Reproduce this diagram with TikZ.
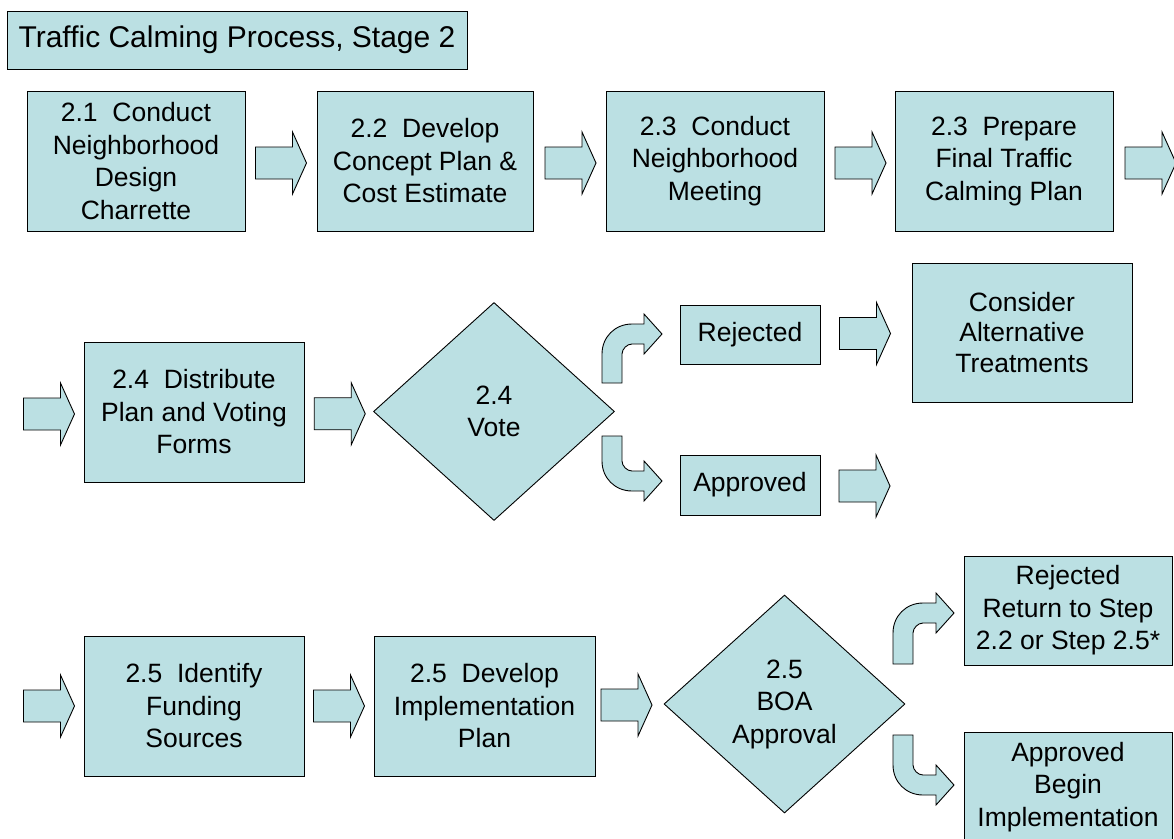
\documentclass[tikz,border=0pt]{standalone}
\usepackage{fontspec}
\setmainfont{Liberation Sans}
\usetikzlibrary{shapes.geometric,calc}
\definecolor{boxfill}{RGB}{187,224,227}
\tikzset{
  base/.style={draw=black, line width=0.9pt, fill=boxfill, align=center, inner sep=0pt,
               font=\fontsize{26.5}{32.5}\selectfont},
  stepbox/.style={base, rectangle},
  decision/.style={base, diamond, minimum width=241, minimum height=218},
  blk/.style={draw=black, line width=0.9pt, fill=boxfill, line join=miter}
}
\newcommand\blockarrow[1]{%
  \draw[blk, shift={(#1)}] (-25.5,-16) -- (11.5,-16) -- (11.5,-31) -- (25.5,0)
    -- (11.5,31) -- (11.5,16) -- (-25.5,16) -- cycle;}
% up-bent arrow: #1 shaft left x, #2 shaft bottom y, #3 horizontal centre y, #4 head base x
\newcommand\bentup[4]{%
  \draw[blk] (#1,#2) -- (#1,{#3-10+30})
    .. controls (#1,{#3-10+13}) and ({#1+13},{#3-10}) .. ({#1+30},{#3-10})
    -- (#4,{#3-10}) -- (#4,{#3-20}) -- ({#4+18},#3) -- (#4,{#3+20}) -- (#4,{#3+10})
    -- ({#1+30},{#3+10})
    .. controls ({#1+25},{#3+10}) and ({#1+20},{#3+15}) .. ({#1+20},{#3+20})
    -- ({#1+20},#2) -- cycle;}
% down-bent arrow: #1 shaft left x, #2 shaft top y, #3 horizontal centre y, #4 head base x
\newcommand\bentdown[4]{%
  \draw[blk] (#1,#2) -- (#1,{#3+10-30})
    .. controls (#1,{#3+10-13}) and ({#1+13},{#3+10}) .. ({#1+30},{#3+10})
    -- (#4,{#3+10}) -- (#4,{#3+20}) -- ({#4+18},#3) -- (#4,{#3-20}) -- (#4,{#3-10})
    -- ({#1+30},{#3-10})
    .. controls ({#1+25},{#3-10}) and ({#1+20},{#3-15}) .. ({#1+20},{#3-20})
    -- ({#1+20},#2) -- cycle;}
\begin{document}
\begin{tikzpicture}[x=1pt,y=-1pt]
\useasboundingbox (0,0) rectangle (1174,838);

% title
\node[stepbox, minimum width=460, minimum height=58, font=\fontsize{30}{34}\selectfont]
  (title) at (237,40) {Traffic Calming Process, Stage 2};

% row 1
\node[stepbox, minimum width=218, minimum height=140] (s21) at (136,161)
  {2.1~~Conduct\\Neighborhood\\Design\\Charrette};
\node[stepbox, minimum width=216, minimum height=140] (s22) at (425,161)
  {2.2~~Develop\\Concept Plan \&\\Cost Estimate};
\node[stepbox, minimum width=218, minimum height=140] (s23) at (715,161)
  {2.3~~Conduct\\Neighborhood\\Meeting};
\node[stepbox, minimum width=218, minimum height=140] (s23b) at (1004,161)
  {2.3~~Prepare\\Final Traffic\\Calming Plan};

% row 2
\node[stepbox, minimum width=220, minimum height=140] (s24) at (194,412)
  {2.4~~Distribute\\Plan and Voting\\Forms};
\node[decision] (vote) at (494,411.5) {2.4\\Vote};
\node[stepbox, minimum width=140, minimum height=59] (rej) at (750,334.5) {Rejected};
\node[stepbox, minimum width=140, minimum height=60] (appr) at (750,485) {Approved};
\node[stepbox, minimum width=220, minimum height=139, font=\fontsize{26.5}{30.5}\selectfont]
  (alt) at (1022,332.5) {Consider\\Alternative\\Treatments};

% row 3
\node[stepbox, minimum width=220, minimum height=140] (s25a) at (194,706)
  {2.5~~Identify\\Funding\\Sources};
\node[stepbox, minimum width=221, minimum height=140] (s25b) at (484.5,706)
  {2.5~~Develop\\Implementation\\Plan};
\node[decision] (boa) at (784.5,704) {2.5\\BOA\\Approval};
\node[stepbox, minimum width=208, minimum height=109] (rej2) at (1068,610.5)
  {Rejected\\Return to Step\\2.2 or Step 2.5*};
\node[stepbox, minimum width=208, minimum height=110] (appr2) at (1068,787)
  {Approved\\Begin\\Implementation};

% connector positions
\coordinate (m1) at ($(s21.east)!0.5!(s22.west)+(0,2)$);
\coordinate (m2) at ($(s22.east)!0.5!(s23.west)+(1,2)$);
\coordinate (m3) at ($(s23.east)!0.5!(s23b.west)+(1,2)$);
\coordinate (e1) at (1150.5,163);
\coordinate (l2) at (49,414);
\coordinate (m4) at ($(s24.east)!0.5!(vote.west)+(1,2)$);
\coordinate (m5) at ($(rej.east)!0.5!(rej.east -| alt.west)+(-1,-1)$);
\coordinate (e2) at (864.5,486);
\coordinate (l3) at (49,706);
\coordinate (m6) at ($(s25a.east)!0.5!(s25b.west)$);
\coordinate (m7) at ($(s25b.east)!0.5!(boa.west)+(-3,0)$);

\blockarrow{m1}
\blockarrow{m2}
\blockarrow{m3}
\blockarrow{e1}
\blockarrow{l2}
\blockarrow{m4}
\blockarrow{m5}
\blockarrow{e2}
\blockarrow{l3}
\blockarrow{m6}
\blockarrow{m7}

% bent arrows from the decisions
\bentup{602}{383}{334}{644}
\bentdown{602}{436}{481}{644}
\bentup{893}{664}{613}{936}
\bentdown{893}{735}{785}{936}
\end{tikzpicture}
\end{document}
